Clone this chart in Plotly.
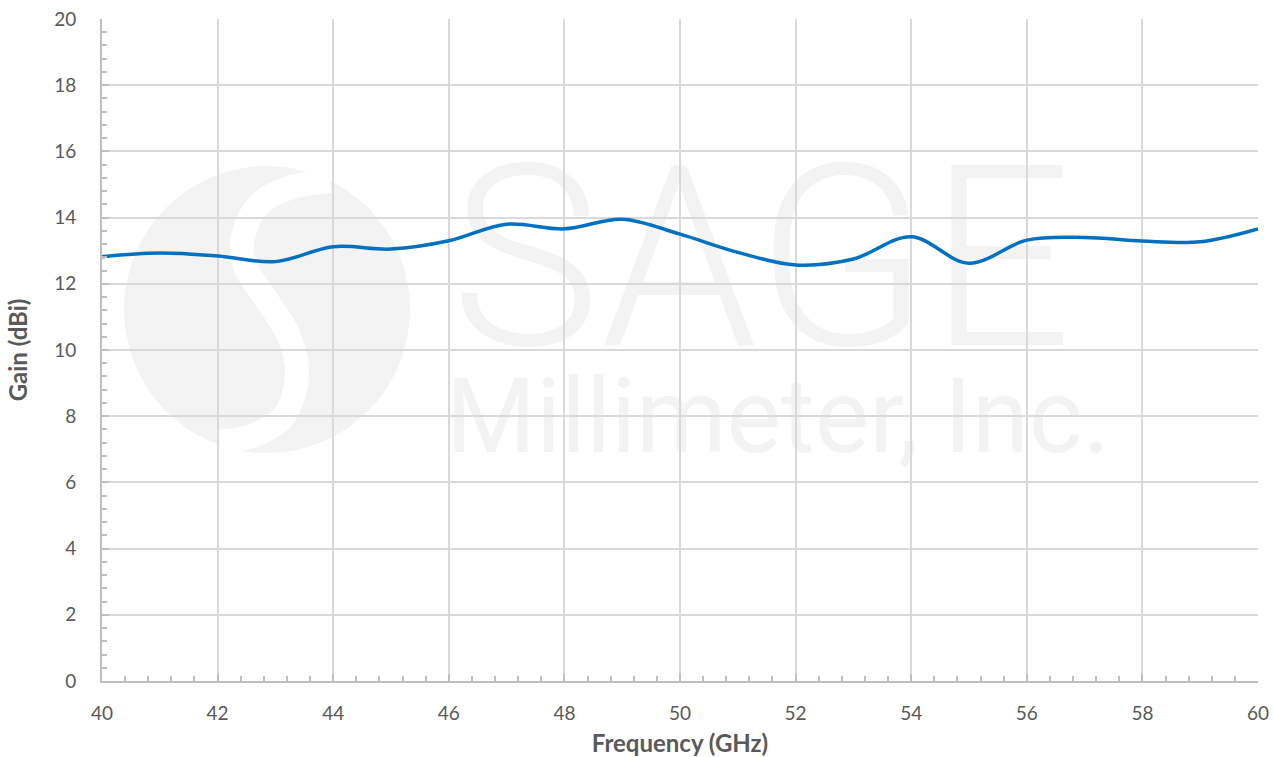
import plotly.graph_objects as go

# ---- data ----
freq_ghz = [40, 41, 42, 43, 44, 45, 46, 47, 48, 49, 50,
            51, 52, 53, 54, 55, 56, 57, 58, 59, 60]
gain_dbi = [12.82, 12.93, 12.84, 12.67, 13.12, 13.05, 13.30, 13.80, 13.66, 13.95, 13.50,
            12.95, 12.57, 12.75, 13.42, 12.62, 13.32, 13.40, 13.29, 13.27, 13.66]
x_ticks = list(range(40, 61, 2))
y_ticks = list(range(0, 21, 2))

W, H = 1273, 757
L, R, T, B = 102, 1258, 19, 681

def px(x):
    return (x - L) / (R - L)

def py(y):
    return (B - y) / (B - T)

def catmull_path(pts):
    s = f"M {px(pts[0][0]):.5f},{py(pts[0][1]):.5f}"
    n = len(pts)
    for i in range(n - 1):
        p0 = pts[i - 1] if i > 0 else pts[i]
        p1 = pts[i]
        p2 = pts[i + 1]
        p3 = pts[i + 2] if i + 2 < n else pts[i + 1]
        c1 = (p1[0] + (p2[0] - p0[0]) / 6, p1[1] + (p2[1] - p0[1]) / 6)
        c2 = (p2[0] - (p3[0] - p1[0]) / 6, p2[1] - (p3[1] - p1[1]) / 6)
        s += (f" C {px(c1[0]):.5f},{py(c1[1]):.5f} {px(c2[0]):.5f},{py(c2[1]):.5f}"
              f" {px(p2[0]):.5f},{py(p2[1]):.5f}")
    return s

WM = "#f3f3f3"
band = [(330, 181), (292, 187), (262, 202), (244, 232), (245, 266), (266, 299),
        (289, 336), (297, 376), (284, 416), (252, 436), (218, 442)]

shapes = [
    dict(type="circle", xref="paper", yref="paper", layer="below",
         x0=px(124), x1=px(410), y0=py(453), y1=py(166),
         fillcolor=WM, line=dict(width=0)),
    dict(type="path", xref="paper", yref="paper", layer="below",
         path=catmull_path(band), line=dict(color="white", width=24)),
    dict(type="rect", xref="paper", yref="paper", layer="below",
         x0=px(430), x1=px(1093), y0=py(336), y1=py(146),
         fillcolor="rgba(0,0,0,0)", line=dict(width=0),
         label=dict(text="SAGE", textposition="middle center",
                    font=dict(family="Roboto", size=252, color=WM, weight=300))),
    dict(type="rect", xref="paper", yref="paper", layer="below",
         x0=px(428), x1=px(1128), y0=py(453), y1=py(365),
         fillcolor="rgba(0,0,0,0)", line=dict(width=0),
         label=dict(text="Millimeter, Inc.", textposition="middle center",
                    font=dict(family="Roboto", size=103, color=WM))),
]

fig = go.Figure()
fig.add_trace(go.Scatter(
    x=freq_ghz, y=gain_dbi, mode="lines",
    line=dict(color="#0070C0", width=3.5, shape="spline", smoothing=1),
    showlegend=False, hoverinfo="x+y",
))

axis_font = dict(family="Lato", size=19, color="#595959")
title_font = dict(family="Lato", size=24, color="#595959", weight="bold")

fig.update_layout(
    width=W, height=H,
    margin=dict(l=L, r=W - R, t=T, b=H - B, pad=0),
    paper_bgcolor="white", plot_bgcolor="white",
    shapes=shapes,
    xaxis=dict(
        range=[40, 60], tickvals=x_ticks, ticktext=[str(v) for v in x_ticks],
        showgrid=True, gridcolor="#d9d9d9", gridwidth=1.5,
        showline=True, linecolor="#bfbfbf", linewidth=2,
        ticks="inside", ticklen=7, tickcolor="#bfbfbf", tickwidth=1.5,
        minor=dict(dtick=0.4, tick0=40, ticks="inside", ticklen=5,
                   tickcolor="#bfbfbf", tickwidth=1.5, showgrid=False),
        tickfont=axis_font, ticklabelstandoff=14,
        title=dict(text="Frequency (GHz)", font=title_font, standoff=13),
        zeroline=False, fixedrange=True, automargin=False,
    ),
    yaxis=dict(
        range=[0, 20], tickvals=y_ticks, ticktext=[str(v) for v in y_ticks],
        showgrid=True, gridcolor="#d9d9d9", gridwidth=1.5,
        showline=True, linecolor="#bfbfbf", linewidth=2,
        ticks="inside", ticklen=7, tickcolor="#bfbfbf", tickwidth=1.5,
        minor=dict(dtick=0.4, tick0=0, ticks="inside", ticklen=5,
                   tickcolor="#bfbfbf", tickwidth=1.5, showgrid=False),
        tickfont=axis_font, ticklabelstandoff=20,
        title=dict(text="Gain (dBi)", font=title_font, standoff=20),
        zeroline=False, fixedrange=True, automargin=False,
    ),
)

fig.write_html("out.html", config={"displayModeBar": False},
               post_script="document.body.style.margin='0';")
